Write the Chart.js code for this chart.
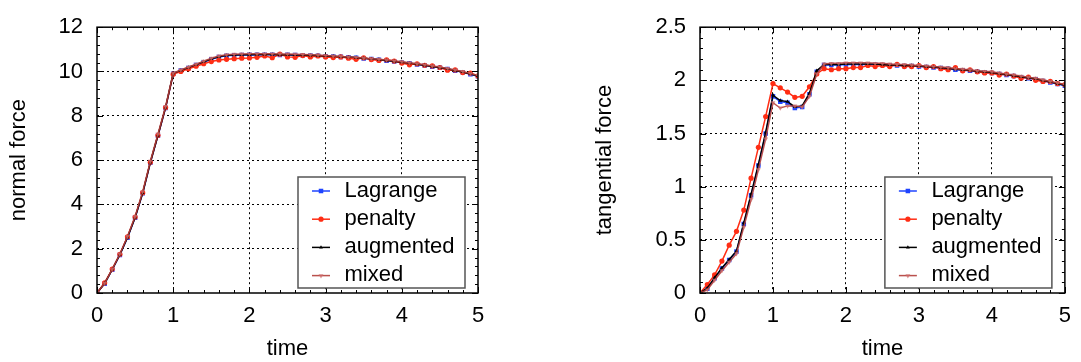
<!DOCTYPE html>
<html>
<head>
<meta charset="utf-8">
<script src="https://cdn.jsdelivr.net/npm/chart.js@4.4.1/dist/chart.umd.min.js"></script>
<style>
  html, body { margin: 0; padding: 0; background: #fff; }
  #wrap { position: relative; width: 1081px; height: 362px; }
  canvas { position: absolute; top: 0; }
  #normal { left: 0; }
  #tangential { left: 540px; }
</style>
</head>
<body>
<div id="wrap">
  <canvas id="normal" width="540" height="362"></canvas>
  <canvas id="tangential" width="541" height="362"></canvas>
</div>
<script>
'use strict';

// time steps shared by every series
const time = [0, 0.1, 0.2, 0.3, 0.4, 0.5, 0.6, 0.7, 0.8, 0.9, 1,
	1.1, 1.2, 1.3, 1.4, 1.5, 1.6, 1.7, 1.8, 1.9, 2,
	2.1, 2.2, 2.3, 2.4, 2.5, 2.6, 2.7, 2.8, 2.9, 3,
	3.1, 3.2, 3.3, 3.4, 3.5, 3.6, 3.7, 3.8, 3.9, 4,
	4.1, 4.2, 4.3, 4.4, 4.5, 4.6, 4.7, 4.8, 4.9, 5];

const seriesNames = ['Lagrange', 'penalty', 'augmented', 'mixed'];

// normal force
const normalLagrange = [0, 0.42, 1.05, 1.72, 2.5, 3.4, 4.5, 5.88, 7.1, 8.35, 9.9,
	10.04, 10.16, 10.29, 10.42, 10.55, 10.65, 10.71, 10.73, 10.74, 10.75,
	10.75, 10.76, 10.76, 10.75, 10.75, 10.74, 10.73, 10.72, 10.71, 10.69,
	10.68, 10.66, 10.64, 10.62, 10.59, 10.56, 10.53, 10.49, 10.45, 10.41,
	10.37, 10.32, 10.27, 10.22, 10.17, 10.11, 10.04, 9.97, 9.88, 9.79];
const normalPenalty = [0, 0.46, 1.08, 1.75, 2.54, 3.43, 4.53, 5.9, 7.12, 8.37, 9.88,
	10.0, 10.12, 10.24, 10.35, 10.45, 10.52, 10.55, 10.58, 10.6, 10.61,
	10.64, 10.7, 10.62, 10.78, 10.66, 10.64, 10.72, 10.66, 10.7, 10.66,
	10.63, 10.66, 10.6, 10.55, 10.62, 10.54, 10.5, 10.53, 10.47, 10.38,
	10.3, 10.35, 10.28, 10.25, 10.18, 10.06, 10.07, 9.95, 9.93, 9.8];
const normalAugmented = [0, 0.43, 1.06, 1.73, 2.51, 3.41, 4.52, 5.9, 7.12, 8.38, 9.92,
	10.05, 10.18, 10.31, 10.44, 10.57, 10.67, 10.73, 10.75, 10.76, 10.76,
	10.77, 10.77, 10.77, 10.76, 10.76, 10.75, 10.74, 10.73, 10.72, 10.7,
	10.69, 10.67, 10.65, 10.63, 10.6, 10.57, 10.54, 10.5, 10.46, 10.42,
	10.38, 10.33, 10.28, 10.23, 10.18, 10.12, 10.05, 9.98, 9.89, 9.8];
const normalMixed = [0, 0.44, 1.08, 1.76, 2.55, 3.46, 4.58, 5.95, 7.18, 8.42, 9.93,
	10.07, 10.2, 10.33, 10.47, 10.6, 10.7, 10.76, 10.78, 10.79, 10.8,
	10.8, 10.8, 10.8, 10.79, 10.79, 10.78, 10.77, 10.76, 10.74, 10.72,
	10.7, 10.68, 10.66, 10.64, 10.61, 10.58, 10.55, 10.52, 10.48, 10.44,
	10.4, 10.35, 10.3, 10.25, 10.2, 10.14, 10.07, 10.0, 9.91, 9.82];

// tangential force
const tangLagrange = [0, 0.04, 0.14, 0.23, 0.31, 0.39, 0.65, 0.92, 1.2, 1.5, 1.85,
	1.8, 1.79, 1.74, 1.75, 1.87, 2.08, 2.145, 2.145, 2.145, 2.15,
	2.15, 2.15, 2.15, 2.15, 2.145, 2.14, 2.14, 2.135, 2.135, 2.13,
	2.125, 2.12, 2.115, 2.11, 2.1, 2.095, 2.09, 2.08, 2.075, 2.07,
	2.06, 2.05, 2.04, 2.03, 2.02, 2.01, 1.995, 1.98, 1.965, 1.95];
const tangPenalty = [0, 0.08, 0.17, 0.3, 0.45, 0.58, 0.78, 1.08, 1.37, 1.66, 1.97,
	1.93, 1.89, 1.84, 1.85, 1.94, 2.06, 2.11, 2.1, 2.11, 2.11,
	2.12, 2.12, 2.14, 2.13, 2.14, 2.13, 2.15, 2.13, 2.13, 2.14,
	2.12, 2.13, 2.11, 2.1, 2.12, 2.09, 2.1, 2.08, 2.07, 2.07,
	2.05, 2.06, 2.04, 2.02, 2.03, 2.0, 1.99, 1.99, 1.97, 1.96];
const tangAugmented = [0, 0.045, 0.145, 0.235, 0.315, 0.395, 0.66, 0.93, 1.21, 1.51, 1.86,
	1.81, 1.8, 1.75, 1.76, 1.88, 2.09, 2.15, 2.15, 2.15, 2.155,
	2.155, 2.155, 2.155, 2.155, 2.15, 2.145, 2.145, 2.14, 2.14, 2.135,
	2.13, 2.125, 2.12, 2.115, 2.105, 2.1, 2.095, 2.085, 2.08, 2.075,
	2.065, 2.055, 2.045, 2.035, 2.025, 2.015, 2.0, 1.985, 1.97, 1.955];
const tangMixed = [0, 0.03, 0.12, 0.21, 0.29, 0.37, 0.62, 0.88, 1.16, 1.45, 1.79,
	1.74, 1.76, 1.76, 1.75, 1.85, 2.06, 2.155, 2.16, 2.16, 2.165,
	2.165, 2.165, 2.165, 2.16, 2.16, 2.155, 2.15, 2.15, 2.145, 2.14,
	2.135, 2.13, 2.125, 2.12, 2.11, 2.105, 2.1, 2.09, 2.085, 2.08,
	2.07, 2.06, 2.05, 2.04, 2.03, 2.02, 2.005, 1.99, 1.975, 1.96];

const FONT = '"Liberation Sans", Arial, Helvetica, sans-serif';
Chart.defaults.font.family = FONT;
Chart.defaults.font.size = 22;
Chart.defaults.color = '#000';

const look = [
	{borderColor: '#1f44ff', backgroundColor: '#1f44ff', pointStyle: 'rect', pointRadius: 3.2, order: 3},
	{borderColor: '#ff2d14', backgroundColor: '#ff2d14', pointStyle: 'circle', pointRadius: 2.6, order: 2},
	{borderColor: '#000000', backgroundColor: '#000000', pointStyle: 'triangle', pointRadius: 2.2, order: 1},
	{borderColor: 'rgba(178,62,58,0.9)', backgroundColor: 'rgba(205,110,110,0.75)', pointStyle: 'triangle', pointRotation: 180, pointRadius: 2.8, order: 0}
];

// border box plus inward major/minor tick marks on all four sides
const framePlugin = {
	id: 'frame',
	afterDatasetsDraw(chart, args, o) {
		const {ctx, chartArea: a, scales: {x, y}} = chart;
		ctx.save();
		ctx.strokeStyle = '#000';
		ctx.lineWidth = 1;
		const marks = (scale, step, major, draw) => {
			const n = Math.round((scale.max - scale.min) / step);
			for (let i = 0; i <= n; i++) {
				const v = scale.min + i * step;
				const r = v / major;
				const len = Math.abs(r - Math.round(r)) < 1e-6 ? 6 : 3;
				draw(Math.round(scale.getPixelForValue(v)) + 0.5, len);
			}
		};
		ctx.beginPath();
		marks(x, o.xMinor, o.xMajor, (p, len) => {
			ctx.moveTo(p, a.bottom); ctx.lineTo(p, a.bottom - len);
			ctx.moveTo(p, a.top); ctx.lineTo(p, a.top + len);
		});
		marks(y, o.yMinor, o.yMajor, (p, len) => {
			ctx.moveTo(a.left, p); ctx.lineTo(a.left + len, p);
			ctx.moveTo(a.right, p); ctx.lineTo(a.right - len, p);
		});
		ctx.stroke();
		ctx.lineWidth = 1.5;
		ctx.strokeRect(a.left, a.top, a.right - a.left, a.bottom - a.top);
		ctx.restore();
	}
};

// boxed legend in the lower right corner of the plot
const boxLegend = {
	id: 'boxLegend',
	afterDraw(chart, args, o) {
		const {ctx, chartArea: a} = chart;
		const x0 = a.right - o.right - o.width;
		const y0 = a.bottom - o.bottom - o.height;
		ctx.save();
		ctx.fillStyle = '#fff';
		ctx.fillRect(x0, y0, o.width, o.height);
		ctx.strokeStyle = '#555';
		ctx.lineWidth = 1.5;
		ctx.strokeRect(x0, y0, o.width, o.height);
		ctx.font = '22px ' + FONT;
		ctx.textBaseline = 'alphabetic';
		chart.data.datasets.forEach((ds, i) => {
			const base = y0 + 19.5 + i * 28.2;
			const ly = base - 5.5;
			ctx.strokeStyle = ds.borderColor;
			ctx.lineWidth = 1.5;
			ctx.beginPath();
			ctx.moveTo(x0 + 14, ly);
			ctx.lineTo(x0 + 32, ly);
			ctx.stroke();
			ctx.fillStyle = ds.backgroundColor;
			Chart.helpers.drawPoint(ctx, {
				pointStyle: ds.pointStyle,
				radius: ds.pointRadius,
				rotation: ds.pointRotation || 0,
				borderWidth: 0
			}, x0 + 23, ly);
			ctx.fillStyle = '#000';
			ctx.fillText(ds.label, x0 + 46.5, base);
		});
		ctx.restore();
	}
};

const edgeless = c => {
	const s = c.scale;
	if (c.tick && (Math.abs(c.tick.value - s.min) < 1e-9 || Math.abs(c.tick.value - s.max) < 1e-9)) {
		return 'rgba(0,0,0,0)';
	}
	return '#000';
};

// plain gnuplot-like numbers: 1 not 1.0
const plain = v => String(Math.round(v * 100) / 100);

function buildChart(id, series, cfg) {
	const datasets = seriesNames.map((name, k) => Object.assign({
		label: name,
		data: time.map((t, i) => ({x: t, y: series[k][i]})),
		borderWidth: 1.5,
		pointBorderWidth: 0,
		pointBackgroundColor: look[k].backgroundColor,
		tension: 0
	}, look[k]));

	return new Chart(document.getElementById(id), {
		type: 'line',
		data: {datasets: datasets},
		options: {
			responsive: false,
			animation: false,
			devicePixelRatio: 1,
			layout: {padding: {top: 15, right: cfg.padRight, bottom: 0, left: 0}},
			plugins: {
				legend: {display: false},
				tooltip: {enabled: false},
				frame: {xMinor: 0.2, xMajor: 1, yMinor: cfg.yMinor, yMajor: cfg.yStep},
				boxLegend: {right: 13, bottom: 5, width: 167, height: 111}
			},
			scales: {
				x: {
					type: 'linear',
					min: 0,
					max: 5,
					ticks: {stepSize: 1, padding: 10, maxRotation: 0, color: '#000', callback: plain},
					grid: {drawTicks: false, color: edgeless, lineWidth: 1},
					border: {display: false, dash: [2, 3]},
					title: {display: true, text: 'time', color: '#000', padding: {top: 0, bottom: 0}},
					afterFit(s) { s.height = 69; }
				},
				y: {
					type: 'linear',
					min: 0,
					max: cfg.yMax,
					ticks: {stepSize: cfg.yStep, padding: 14, color: '#000', callback: plain},
					grid: {drawTicks: false, color: edgeless, lineWidth: 1},
					border: {display: false, dash: [2, 3]},
					title: {display: true, text: cfg.yTitle, color: '#000', padding: {top: cfg.titlePad, bottom: 0}},
					afterFit(s) { s.width = cfg.yWidth; }
				}
			}
		},
		plugins: [framePlugin, boxLegend]
	});
}

buildChart('normal', [normalLagrange, normalPenalty, normalAugmented, normalMixed], {
	yMax: 12, yStep: 2, yMinor: 0.4, yTitle: 'normal force',
	yWidth: 97, padRight: 62, titlePad: 6
});

buildChart('tangential', [tangLagrange, tangPenalty, tangAugmented, tangMixed], {
	yMax: 2.5, yStep: 0.5, yMinor: 0.1, yTitle: 'tangential force',
	yWidth: 160, padRight: 14, titlePad: 52
});
</script>
</body>
</html>
